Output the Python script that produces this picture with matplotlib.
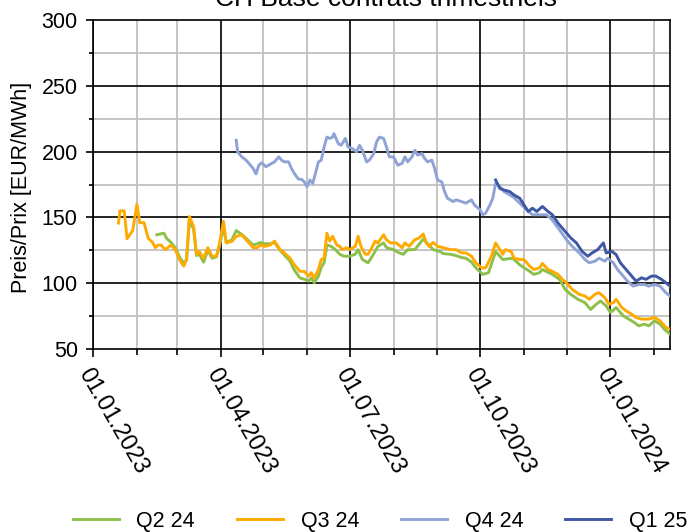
import matplotlib
matplotlib.use('Agg')
import matplotlib.pyplot as plt
import matplotlib.dates as mdates
from matplotlib.ticker import MultipleLocator
import pandas as pd

plt.rcParams['font.family'] = ['Liberation Sans', 'DejaVu Sans']

title = 'CH Base contrats trimestriels'
y_label = 'Preis/Prix [EUR/MWh]'
series_names = ['Q2 24', 'Q3 24', 'Q4 24', 'Q1 25']
colors = ['#8cc04b', '#ffaa00', '#8fa3d6', '#3f58a6']

q2_dates = ['2023-02-15', '2023-02-20', '2023-02-22', '2023-02-25', '2023-02-28', '2023-03-03',
            '2023-03-06', '2023-03-08', '2023-03-10', '2023-03-13', '2023-03-15', '2023-03-17',
            '2023-03-20', '2023-03-23', '2023-03-26', '2023-03-29', '2023-03-31', '2023-04-03',
            '2023-04-05', '2023-04-09', '2023-04-12', '2023-04-16', '2023-04-19', '2023-04-24',
            '2023-04-27', '2023-04-29', '2023-05-02', '2023-05-06', '2023-05-09', '2023-05-13',
            '2023-05-20', '2023-05-23', '2023-05-27', '2023-05-30', '2023-06-02', '2023-06-04',
            '2023-06-06', '2023-06-09', '2023-06-11', '2023-06-13', '2023-06-15', '2023-06-18',
            '2023-06-21', '2023-06-24', '2023-06-27', '2023-07-01', '2023-07-05', '2023-07-07',
            '2023-07-10', '2023-07-14', '2023-07-17', '2023-07-21', '2023-07-25', '2023-07-27',
            '2023-08-01', '2023-08-05', '2023-08-08', '2023-08-11', '2023-08-16', '2023-08-22',
            '2023-08-29', '2023-09-03', '2023-09-05', '2023-09-10', '2023-09-14', '2023-09-18',
            '2023-09-21', '2023-09-25', '2023-09-28', '2023-10-03', '2023-10-07', '2023-10-12',
            '2023-10-17', '2023-10-24', '2023-10-29', '2023-11-05', '2023-11-08', '2023-11-12',
            '2023-11-14', '2023-11-21', '2023-11-26', '2023-11-30', '2023-12-04', '2023-12-09',
            '2023-12-14', '2023-12-18', '2023-12-22', '2023-12-25', '2023-12-29', '2024-01-01',
            '2024-01-05', '2024-01-10', '2024-01-14', '2024-01-18', '2024-01-21', '2024-01-25',
            '2024-01-28', '2024-02-01', '2024-02-05', '2024-02-08', '2024-02-12']
q2_values = [136.8, 138, 134, 131, 127, 120,
             115, 118, 148, 141, 121, 122,
             116, 125, 119, 120, 127, 143,
             131, 133, 140, 137, 134, 129,
             130, 131, 130, 130, 131, 125,
             116.7, 110, 104, 103, 101.6, 104,
             100.4, 105.4, 112, 115.5, 129, 128,
             125.5, 122, 120.5, 120.5, 122, 125.5,
             118, 115.5, 120.5, 128, 130.6, 127,
             125.5, 123, 122, 125.5, 125.5, 133.6,
             125.5, 124, 122.5, 122, 121, 119.5,
             119, 116, 111.7, 106.7, 108, 124,
             118, 119, 114, 109, 106.7, 108,
             110.4, 106.7, 103, 95.3, 91.5, 87.8,
             85.2, 80, 84, 86.5, 82.7, 77.7,
             81.5, 75.2, 72.7, 70, 67.6, 68.9,
             67.6, 71.4, 68.9, 65, 61.3]

q3_dates = ['2023-01-19', '2023-01-20', '2023-01-23', '2023-01-25', '2023-01-29', '2023-02-01',
            '2023-02-03', '2023-02-06', '2023-02-09', '2023-02-12', '2023-02-14', '2023-02-16',
            '2023-02-18', '2023-02-21', '2023-02-25', '2023-02-28', '2023-03-03', '2023-03-06',
            '2023-03-08', '2023-03-10', '2023-03-13', '2023-03-15', '2023-03-17', '2023-03-20',
            '2023-03-23', '2023-03-26', '2023-03-29', '2023-03-31', '2023-04-03', '2023-04-05',
            '2023-04-09', '2023-04-12', '2023-04-16', '2023-04-19', '2023-04-24', '2023-04-27',
            '2023-04-29', '2023-05-02', '2023-05-06', '2023-05-09', '2023-05-13', '2023-05-16',
            '2023-05-20', '2023-05-23', '2023-05-27', '2023-05-30', '2023-06-02', '2023-06-04',
            '2023-06-06', '2023-06-09', '2023-06-11', '2023-06-13', '2023-06-15', '2023-06-17',
            '2023-06-19', '2023-06-22', '2023-06-24', '2023-06-26', '2023-06-29', '2023-07-01',
            '2023-07-05', '2023-07-07', '2023-07-09', '2023-07-12', '2023-07-14', '2023-07-16',
            '2023-07-19', '2023-07-21', '2023-07-25', '2023-07-27', '2023-07-30', '2023-08-03',
            '2023-08-07', '2023-08-09', '2023-08-12', '2023-08-16', '2023-08-19', '2023-08-22',
            '2023-08-24', '2023-08-26', '2023-08-29', '2023-09-01', '2023-09-05', '2023-09-10',
            '2023-09-14', '2023-09-18', '2023-09-21', '2023-09-25', '2023-09-28', '2023-10-02',
            '2023-10-05', '2023-10-09', '2023-10-12', '2023-10-15', '2023-10-17', '2023-10-19',
            '2023-10-23', '2023-10-25', '2023-10-29', '2023-11-01', '2023-11-05', '2023-11-08',
            '2023-11-12', '2023-11-14', '2023-11-18', '2023-11-21', '2023-11-25', '2023-11-28',
            '2023-12-02', '2023-12-05', '2023-12-10', '2023-12-14', '2023-12-17', '2023-12-21',
            '2023-12-24', '2023-12-28', '2023-12-31', '2024-01-03', '2024-01-05', '2024-01-09',
            '2024-01-12', '2024-01-16', '2024-01-19', '2024-01-23', '2024-01-25', '2024-01-28',
            '2024-02-01', '2024-02-05', '2024-02-07', '2024-02-09', '2024-02-12']
q3_values = [145.7, 155, 155, 133.8, 140, 160,
             146, 146, 134, 131, 127, 129,
             129, 125.5, 129, 125.5, 118, 113,
             118, 150.7, 143, 121.7, 124, 119,
             127, 120.5, 120.5, 129, 147, 130.6,
             131.8, 135.6, 136.8, 133, 127, 127,
             129, 128, 129, 132, 125.5, 123,
             119, 114, 109, 109, 105.4, 108,
             104, 110.4, 118, 119, 138, 132,
             135.6, 129, 128, 125.5, 127, 125.5,
             128, 135.6, 128, 122, 122, 125.5,
             132, 130.6, 136.8, 133, 130.6, 130.6,
             127, 130.6, 128, 133, 134.4, 137.4,
             130.6, 128, 131, 128, 127, 125.5,
             125.5, 123, 123, 120.5, 115.5, 111.7,
             111.7, 120.5, 130.6, 125.5, 122, 125.5,
             124, 119, 118, 118, 113, 110.4,
             111.7, 115, 110.4, 109, 106.7, 103,
             99, 95.3, 91.5, 90.3, 87.8, 91.5,
             92.8, 89, 84, 85.2, 87.8, 81.5,
             79, 76.4, 74, 72.7, 72.7, 72.7,
             74, 71.4, 68.9, 66.4, 65]

q4_dates = ['2023-04-12', '2023-04-13', '2023-04-16', '2023-04-19', '2023-04-22', '2023-04-24',
            '2023-04-26', '2023-04-28', '2023-04-30', '2023-05-03', '2023-05-07', '2023-05-09',
            '2023-05-12', '2023-05-14', '2023-05-16', '2023-05-19', '2023-05-21', '2023-05-23',
            '2023-05-26', '2023-05-28', '2023-05-30', '2023-06-01', '2023-06-03', '2023-06-05',
            '2023-06-06', '2023-06-09', '2023-06-11', '2023-06-13', '2023-06-15', '2023-06-17',
            '2023-06-19', '2023-06-20', '2023-06-23', '2023-06-25', '2023-06-28', '2023-06-30',
            '2023-07-03', '2023-07-06', '2023-07-08', '2023-07-10', '2023-07-13', '2023-07-15',
            '2023-07-18', '2023-07-20', '2023-07-22', '2023-07-25', '2023-07-27', '2023-07-29',
            '2023-08-01', '2023-08-04', '2023-08-07', '2023-08-09', '2023-08-11', '2023-08-14',
            '2023-08-16', '2023-08-18', '2023-08-21', '2023-08-23', '2023-08-25', '2023-08-28',
            '2023-08-30', '2023-09-01', '2023-09-04', '2023-09-06', '2023-09-08', '2023-09-12',
            '2023-09-14', '2023-09-18', '2023-09-21', '2023-09-25', '2023-09-27', '2023-10-01',
            '2023-10-03', '2023-10-05', '2023-10-08', '2023-10-10', '2023-10-12', '2023-10-15',
            '2023-10-18', '2023-10-22', '2023-10-25', '2023-10-29', '2023-11-03', '2023-11-07',
            '2023-11-12', '2023-11-17', '2023-11-21', '2023-11-26', '2023-12-01', '2023-12-05',
            '2023-12-10', '2023-12-14', '2023-12-17', '2023-12-21', '2023-12-24', '2023-12-28',
            '2023-12-30', '2024-01-03', '2024-01-06', '2024-01-10', '2024-01-13', '2024-01-17',
            '2024-01-21', '2024-01-25', '2024-01-28', '2024-02-01', '2024-02-05', '2024-02-09',
            '2024-02-12']
q4_values = [208.6, 199.8, 196, 193.5, 189.7, 187.2,
             183, 189.7, 191.5, 188.5, 191, 192.2,
             196, 193.5, 192.2, 192.2, 187.2, 183.4,
             179, 179, 177, 173.3, 178.4, 175.9,
             179.7, 192.2, 193.5, 203.5, 211, 210,
             211, 213.7, 206, 204.8, 210, 203.5,
             202.3, 199.8, 204.8, 201, 192.2, 193.5,
             198.5, 207.3, 211, 210, 203.5, 196,
             196, 189.7, 191, 196, 192.2, 196,
             201, 197.3, 198.5, 194.7, 192.2, 193.5,
             187.2, 178.4, 177, 169.6, 164.6, 162,
             163.3, 162, 160.8, 163.3, 159.5, 155.8,
             152, 153.3, 159.5, 164.6, 175.9, 173.4,
             169.6, 167, 165, 160.8, 155.8, 152,
             152, 152, 148, 140.6, 133, 128,
             123, 118, 115.5, 116.7, 119, 116.7,
             119, 115.5, 110.4, 105.4, 101.6, 97.8,
             99, 99, 97.8, 99, 97.8, 92.8,
             90.3]

q1_dates = ['2023-10-12', '2023-10-15', '2023-10-18', '2023-10-22', '2023-10-25', '2023-10-29',
            '2023-11-01', '2023-11-04', '2023-11-07', '2023-11-10', '2023-11-14', '2023-11-18',
            '2023-11-21', '2023-11-25', '2023-11-30', '2023-12-04', '2023-12-08', '2023-12-12',
            '2023-12-16', '2023-12-19', '2023-12-23', '2023-12-27', '2023-12-29', '2024-01-02',
            '2024-01-05', '2024-01-08', '2024-01-12', '2024-01-16', '2024-01-19', '2024-01-23',
            '2024-01-26', '2024-01-30', '2024-02-02', '2024-02-06', '2024-02-09', '2024-02-12']
q1_values = [178.4, 172, 170.8, 169.6, 167, 164.6,
             159.5, 154.5, 157, 154.5, 158.3, 154.5,
             152, 145.7, 139.4, 134.4, 130.6, 124.2,
             120.5, 123, 125.5, 130.6, 123, 124.2,
             121.7, 115.5, 110.4, 105.4, 101.6, 104.1,
             102.9, 105.4, 105.4, 102.9, 100.4, 97.8]

x_start = '2023-01-01'
x_end = '2024-02-12'

fig = plt.figure(figsize=(6.92, 5.32), dpi=100)
ax = fig.add_axes([93 / 692, 1 - 349 / 532, 577 / 692, 329 / 532])

all_dates = [q2_dates, q3_dates, q4_dates, q1_dates]
all_values = [q2_values, q3_values, q4_values, q1_values]
for dates, values, name, color in zip(all_dates, all_values, series_names, colors):
    ax.plot(pd.to_datetime(dates), values, color=color, lw=2.1, label=name, zorder=3)

ax.set_xlim(pd.Timestamp(x_start), pd.Timestamp(x_end))
ax.set_ylim(50, 300)

ax.xaxis.set_major_locator(mdates.MonthLocator(bymonth=[1, 4, 7, 10]))
ax.xaxis.set_minor_locator(mdates.MonthLocator())
ax.xaxis.set_major_formatter(mdates.DateFormatter('%d.%m.%Y'))
ax.yaxis.set_major_locator(MultipleLocator(50))
ax.yaxis.set_minor_locator(MultipleLocator(25))

ax.tick_params(axis='y', which='major', labelsize=15.5, length=5, width=1.2, pad=6)
ax.tick_params(axis='y', which='minor', length=3, width=1.2)
ax.tick_params(axis='x', which='major', labelsize=17, length=6, width=1.2, pad=5)
ax.tick_params(axis='x', which='minor', length=4, width=1.2)

for lab in ax.get_xticklabels():
    lab.set_rotation(-60)
    lab.set_ha('left')
    lab.set_va('top')
    lab.set_rotation_mode('anchor')

# monthly / 25er lines in grey, quarters / 50er lines in black
for d in pd.date_range(x_start, x_end, freq='MS'):
    major = d.month in (1, 4, 7, 10)
    ax.axvline(d, color='black' if major else '#c0c0c0', lw=1.2 if major else 1.3,
               zorder=1.5 if major else 1)
for v in range(75, 300, 25):
    major = v % 50 == 0
    ax.axhline(v, color='black' if major else '#c0c0c0', lw=1.2 if major else 1.3,
               zorder=1.5 if major else 1)

for sp in ax.spines.values():
    sp.set_color('black')
    sp.set_linewidth(1.2)

ax.set_ylabel(y_label, fontsize=15.5)
ax.yaxis.set_label_coords(-0.105, 0.49)

fig.text(386 / 692, 1 - 6.5 / 532, title, fontsize=19, ha='center', va='baseline')

fig.legend(loc='center', bbox_to_anchor=(380 / 692, 1 - 521 / 532), ncol=4, frameon=False,
           fontsize=15.5, handlelength=2.15, handletextpad=0.8, columnspacing=1.95)

fig.savefig('out.png', dpi=100)
